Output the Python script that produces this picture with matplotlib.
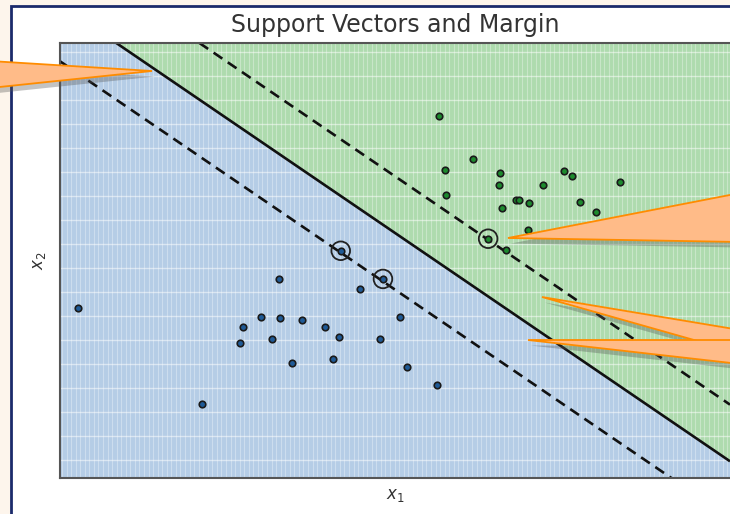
import numpy as np
import matplotlib.pyplot as plt
from matplotlib.patches import Rectangle, Polygon
import matplotlib.patheffects as pe

# two classes of 2-D samples
neg_x1 = [3.27, 2.73, 3.00, 3.28, 3.61, 3.96, 4.16, 2.69, 3.16, 3.46,
          4.07, 4.48, 4.78, 5.07, 5.18, 5.63, 0.27, 2.12, 4.19, 4.82]
neg_x2 = [2.97, 2.25, 2.40, 2.39, 2.36, 2.25, 2.10, 2.01, 2.07, 1.72,
          1.78, 2.82, 2.07, 2.40, 1.66, 1.39, 2.54, 1.10, 3.39, 2.97]
pos_x1 = [5.66, 6.16, 5.75, 6.57, 6.55, 5.76, 6.81, 6.85, 7.00, 6.60,
          7.21, 7.52, 7.64, 8.36, 7.76, 8.00, 6.99, 6.66, 6.39]
pos_x2 = [5.40, 4.76, 4.60, 4.55, 4.37, 4.22, 4.15, 4.15, 4.10, 4.03,
          4.37, 4.58, 4.51, 4.42, 4.12, 3.97, 3.70, 3.40, 3.57]

# support vectors
sv_x1 = [4.19, 4.82, 6.39]
sv_x2 = [3.39, 2.97, 3.57]

# linear decision function  f(x) = w . x + b
coef = [0.806, 1.183]
intercept = -8.355

x_range = [0, 10]
y_range = [0, 6.49]

fig = plt.figure(figsize=(7.3, 5.14), dpi=100)
fig.patch.set_facecolor('#fdf5ec')

# white panel with navy frame
fig.patches.append(Rectangle((11 / 730, -0.05), 1.0, 1.05 - 6 / 514,
                             transform=fig.transFigure, facecolor='white',
                             edgecolor='#1b2a6b', linewidth=2, zorder=-5))

ax = fig.add_axes([60 / 730, 36 / 514, 670 / 730, 435 / 514])
ax.set_xlim(x_range)
ax.set_ylim(y_range)

xx, yy = np.meshgrid(np.linspace(x_range[0], x_range[1], 400),
                     np.linspace(y_range[0], y_range[1], 300))
zz = coef[0] * xx + coef[1] * yy + intercept

ax.contourf(xx, yy, zz, levels=[-100, 0, 100], colors=['#b5cde6', '#aedbae'], zorder=0)

# fine vertical texture and horizontal grid
ax.vlines(np.arange(0.03, 10, 0.068), 0, 7, colors='white', alpha=0.32, linewidth=0.8, zorder=1)
ax.hlines(np.arange(6.36, 0, -0.358), 0, 10, colors='white', alpha=0.5, linewidth=1.0, zorder=1)

ax.contour(xx, yy, zz, levels=[-1, 0, 1], colors='#111111',
           linestyles=[(0, (4, 2.5)), 'solid', (0, (4, 2.5))], linewidths=1.9, zorder=2)

ax.scatter(neg_x1, neg_x2, s=22, c='#1f5a96', edgecolors='#1a1a1a', linewidths=1.2, zorder=3)
ax.scatter(pos_x1, pos_x2, s=22, c='#1d8a2e', edgecolors='#1a1a1a', linewidths=1.2, zorder=3)
ax.scatter(sv_x1, sv_x2, s=180, facecolors='none', edgecolors='#222222', linewidths=1.3, zorder=4)

ax.set_xticks([])
ax.set_yticks([])
for side in ['left', 'bottom', 'top']:
    ax.spines[side].set_color('#555555')
    ax.spines[side].set_linewidth(1.5)
ax.spines['right'].set_visible(False)

ax.set_title('Support Vectors and Margin', fontsize=17, color='#333333', pad=8)
ax.set_xlabel('$x_1$', fontsize=12, color='#333333', labelpad=6)
ax.set_ylabel('$x_2$', fontsize=12, color='#333333', labelpad=9)

# callout pointers (figure pixels, origin at top-left)
callouts = [
    [(-10, 61), (152, 71), (-10, 88)],
    [(740, 193), (508, 238), (740, 242)],
    [(740, 330), (542, 297), (740, 353)],
    [(740, 340), (528, 340), (740, 364)],
]
shadow = [pe.SimplePatchShadow(offset=(2, -4), shadow_rgbFace='#555555', alpha=0.35), pe.Normal()]
for pts in callouts:
    verts = [(x / 730, 1 - y / 514) for x, y in pts]
    poly = Polygon(verts, closed=True, transform=fig.transFigure, facecolor='#ffbb88',
                   edgecolor='#ff8c00', linewidth=1.3, zorder=10)
    poly.set_path_effects(shadow)
    fig.patches.append(poly)

fig.savefig('out.png', dpi=100, facecolor=fig.get_facecolor())
